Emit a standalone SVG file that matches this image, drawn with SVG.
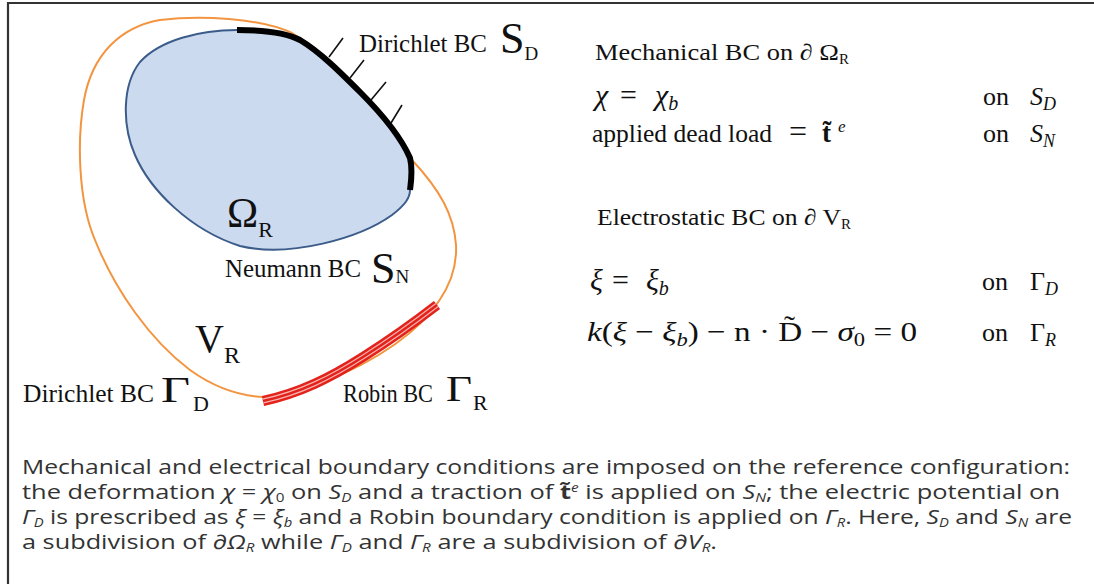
<svg xmlns="http://www.w3.org/2000/svg" width="1094" height="584" viewBox="0 0 1094 584">
<style>
.s{font-family:"Liberation Serif",serif;fill:#111}
.m{font-family:"Liberation Serif",serif;fill:#111;font-style:italic}
.cap{font-family:"Open Sans",sans-serif;fill:#333;font-size:20px}
.i{font-style:italic}
.hatch{stroke:#111;stroke-width:1.6;fill:none}
.band{fill:none}
</style>
<rect x="0" y="0" width="1094" height="584" fill="#fff"/>
<g id="frame" fill="none" stroke="#333" stroke-width="2.2">
<path d="M8,584 L8,3 L1094,3"/>
</g>
<g id="outer-domain">
<path d="M264,397 C240,396 215,388 190,370 C150,340 115,290 95,240 C78,200 77,140 84,100 C92,55 120,27 160,20 C200,15 260,18 292,33 C320,50 340,72 360,92 C380,112 400,135 412,160 C440,190 454,215 456,245 C457,265 450,285 439,301 C420,330 380,360 321,383 C300,392 280,398 264,397 Z" fill="none" stroke="#f39540" stroke-width="2"/>
</g>
<g id="inner-domain">
<path d="M237,30 C200,30 160,40 140,62 C122,85 122,125 135,155 C150,190 190,230 240,246 C290,258 360,238 392,215 C405,205 410,198 410,190 C412,180 413,170 410,158 C400,135 380,112 360,92 C340,72 320,52 300,40 C285,32 262,30 237,30 Z" fill="#cbdaee" stroke="#3b5c8a" stroke-width="2"/>
</g>
<g id="dirichlet-SD">
<path d="M237,30 C262,30 285,32 300,40 C320,52 340,72 360,92 C380,112 400,135 410,158 C413,170 411,182 410,190" fill="none" stroke="#000" stroke-width="6"/>
<path class="hatch" d="M329,57 L343,38 M350,78 L364,60 M371,100 L386,82 M391,123 L402,105"/>
</g>
<g id="robin-GR">
<path class="band" d="M263,401 C300,393 330,378 363,357 C390,340 415,322 437,305" stroke="#e3221b" stroke-width="10"/>
<path class="band" d="M263,401 C300,393 330,378 363,357 C390,340 415,322 437,305" stroke="#f7b3ae" stroke-width="5"/>
<path class="band" d="M263,401 C300,393 330,378 363,357 C390,340 415,322 437,305" stroke="#e3221b" stroke-width="2.6"/>
</g>
<g id="labels">
<text class="s" x="359" y="52" font-size="25" textLength="128" lengthAdjust="spacingAndGlyphs">Dirichlet BC</text>
<text class="s" x="500" y="53" font-size="44">S<tspan font-size="19" dy="7">D</tspan></text>
<text class="s" x="225" y="277" font-size="25" textLength="136" lengthAdjust="spacingAndGlyphs">Neumann BC</text>
<text class="s" x="371" y="283" font-size="44">S<tspan font-size="19">N</tspan></text>
<text class="s" x="227" y="227" font-size="42">Ω<tspan font-size="22" dy="10">R</tspan></text>
<text class="s" x="195" y="352" font-size="40">V<tspan font-size="24" dy="11">R</tspan></text>
<text class="s" x="23" y="402" font-size="25" textLength="131" lengthAdjust="spacingAndGlyphs">Dirichlet BC</text>
<text class="s" x="161" y="402" font-size="36" textLength="29" lengthAdjust="spacingAndGlyphs">Γ</text>
<text class="s" x="193" y="411" font-size="22">D</text>
<text class="s" x="343" y="402" font-size="25" textLength="90" lengthAdjust="spacingAndGlyphs">Robin BC</text>
<text class="s" x="446" y="401" font-size="36" textLength="26" lengthAdjust="spacingAndGlyphs">Γ</text>
<text class="s" x="473" y="410" font-size="22">R</text>
</g>
<g id="equations">
<text class="s" x="595" y="60" font-size="23" textLength="244" lengthAdjust="spacingAndGlyphs">Mechanical  BC on ∂ Ω</text>
<text class="s" x="839" y="64" font-size="15">R</text>
<text class="m" x="595" y="105" font-size="30">χ</text>
<text class="s" x="620" y="105" font-size="30">=</text>
<text class="m" x="655" y="105" font-size="30">χ<tspan font-size="20" dy="5">b</tspan></text>
<text class="s" x="983" y="105" font-size="26">on <tspan x="1030" class="i">S</tspan><tspan font-size="18" dy="5" class="i">D</tspan></text>
<text class="s" x="592" y="142" font-size="25" textLength="180" lengthAdjust="spacingAndGlyphs">applied dead load</text>
<text class="s" x="789" y="142" font-size="32">=</text>
<text class="s" x="822" y="142" font-size="27" font-weight="bold">t̃</text>
<text class="m" x="838" y="132" font-size="17">e</text>
<text class="s" x="983" y="142" font-size="26">on <tspan x="1030" class="i">S</tspan><tspan font-size="18" dy="5" class="i">N</tspan></text>
<text class="s" x="597" y="225" font-size="23" textLength="244" lengthAdjust="spacingAndGlyphs">Electrostatic  BC on ∂ V</text>
<text class="s" x="841" y="229" font-size="15">R</text>
<text class="m" x="590" y="290" font-size="30">ξ</text>
<text class="s" x="612" y="290" font-size="30">=</text>
<text class="m" x="646" y="290" font-size="30">ξ<tspan font-size="20" dy="5">b</tspan></text>
<text class="s" x="982" y="290" font-size="26">on <tspan x="1030">Γ</tspan><tspan font-size="18" dy="5" class="i">D</tspan></text>
<text class="s" x="587" y="341" font-size="28" textLength="330" lengthAdjust="spacingAndGlyphs"><tspan class="i">k</tspan>(<tspan class="i">ξ</tspan> − <tspan class="i">ξ</tspan><tspan class="i" font-size="19" dy="5">b</tspan><tspan dy="-5">) − n · D̃ − </tspan><tspan class="i">σ</tspan><tspan font-size="19" dy="5">0</tspan><tspan dy="-5"> = 0</tspan></text>
<text class="s" x="982" y="341" font-size="26">on <tspan x="1030">Γ</tspan><tspan font-size="18" dy="5" class="i">R</tspan></text>
</g>
<g id="caption">
<text class="cap" x="22" y="474" textLength="1048" lengthAdjust="spacingAndGlyphs">Mechanical and electrical boundary conditions are imposed on the reference configuration:</text>
<text class="cap" x="22" y="499" textLength="1038" lengthAdjust="spacingAndGlyphs">the deformation <tspan class="i">χ</tspan> = <tspan class="i">χ</tspan><tspan font-size="12" dy="3">0</tspan><tspan dy="-3"> on </tspan><tspan class="i">S</tspan><tspan class="i" font-size="12" dy="3">D</tspan><tspan dy="-3"> and a traction of </tspan><tspan font-weight="bold">t̃</tspan><tspan class="i" font-size="12" dy="-7">e</tspan><tspan dy="7"> is applied on </tspan><tspan class="i">S</tspan><tspan class="i" font-size="12" dy="3">N</tspan><tspan dy="-3">; the electric potential on</tspan></text>
<text class="cap" x="22" y="524" textLength="1050" lengthAdjust="spacingAndGlyphs"><tspan class="i">Γ</tspan><tspan class="i" font-size="12" dy="3">D</tspan><tspan dy="-3"> is prescribed as </tspan><tspan class="i">ξ</tspan> = <tspan class="i">ξ</tspan><tspan class="i" font-size="12" dy="3">b</tspan><tspan dy="-3"> and a Robin boundary condition is applied on </tspan><tspan class="i">Γ</tspan><tspan class="i" font-size="12" dy="3">R</tspan><tspan dy="-3">. Here, </tspan><tspan class="i">S</tspan><tspan class="i" font-size="12" dy="3">D</tspan><tspan dy="-3"> and </tspan><tspan class="i">S</tspan><tspan class="i" font-size="12" dy="3">N</tspan><tspan dy="-3"> are</tspan></text>
<text class="cap" x="22" y="549" textLength="695" lengthAdjust="spacingAndGlyphs">a subdivision of <tspan class="i">∂Ω</tspan><tspan class="i" font-size="12" dy="3">R</tspan><tspan dy="-3"> while </tspan><tspan class="i">Γ</tspan><tspan class="i" font-size="12" dy="3">D</tspan><tspan dy="-3"> and </tspan><tspan class="i">Γ</tspan><tspan class="i" font-size="12" dy="3">R</tspan><tspan dy="-3"> are a subdivision of </tspan><tspan class="i">∂V</tspan><tspan class="i" font-size="12" dy="3">R</tspan><tspan dy="-3">.</tspan></text>
</g>
</svg>
